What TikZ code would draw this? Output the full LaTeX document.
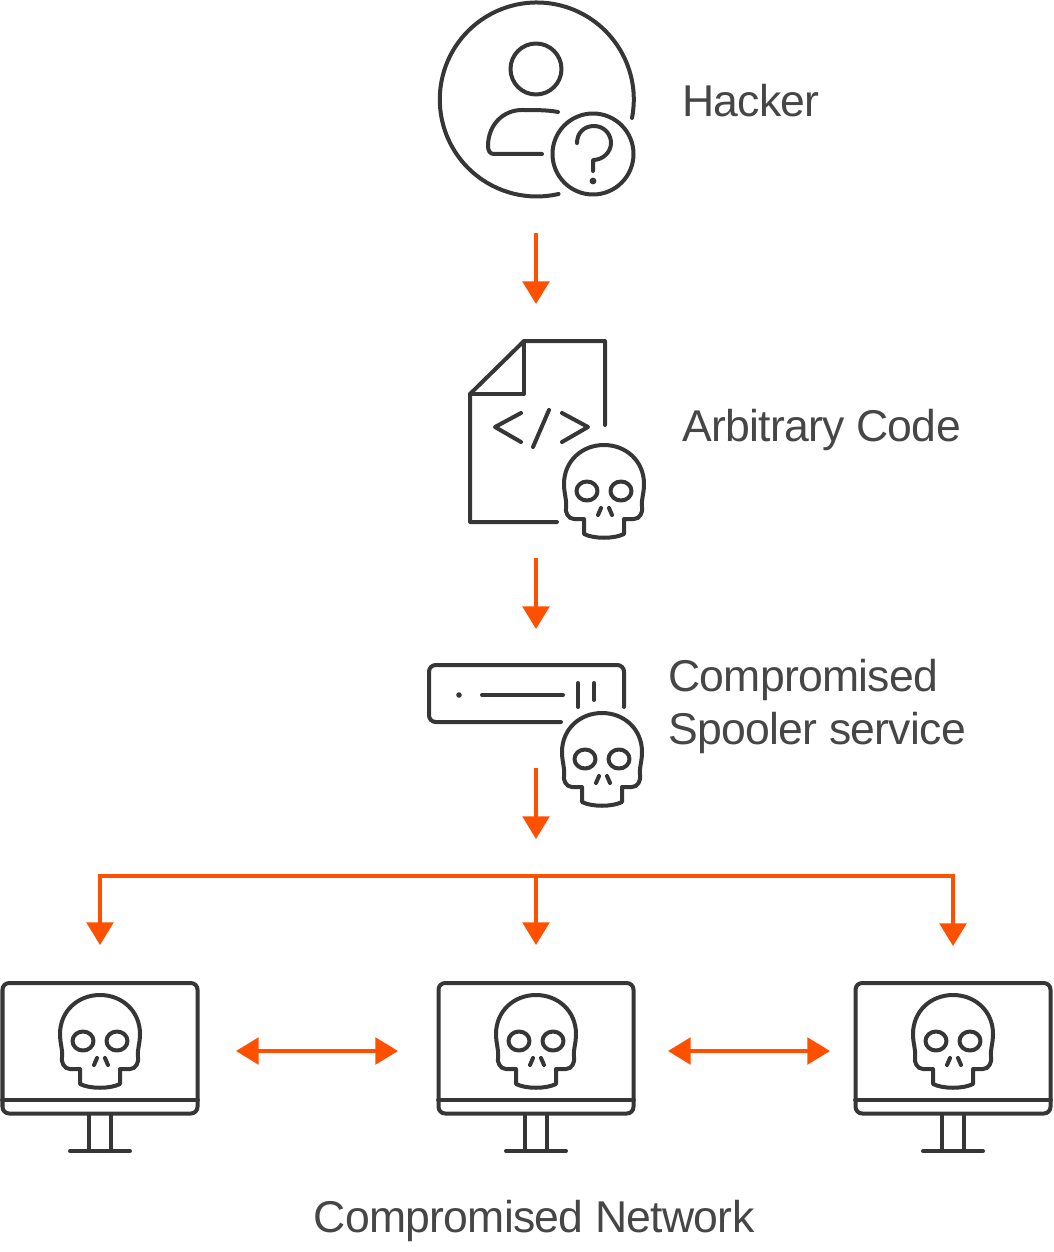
\documentclass[tikz,border=0pt]{standalone}
\usepackage{fontspec}
\setmainfont[LetterSpace=-1.6]{Liberation Sans}
\usetikzlibrary{arrows.meta}
\definecolor{inkgray}{HTML}{363636}
\definecolor{attack}{HTML}{FF5000}
\tikzset{
    icon/.style={draw=inkgray,line width=3pt,line cap=round,line join=round},
    flow/.style={draw=attack,line width=2.6pt,-{Triangle[width=20pt,length=17pt]}},
    both/.style={draw=attack,line width=2.6pt,{Triangle[width=20pt,length=17pt]}-{Triangle[width=20pt,length=17pt]}},
    label/.style={text=inkgray!92,anchor=base west,inner sep=0pt,font=\fontsize{33.4}{40}\selectfont},
}
\def\skull(#1,#2){\begin{scope}[shift={(#1,#2)}]
    \draw[icon] (-20,29) -- (-30,29) .. controls (-36,29) and (-39,22) .. (-38,17)
        .. controls (-37,10) and (-40,4) .. (-40,-6) .. controls (-40,-29) and (-22,-45) .. (0,-45)
        .. controls (22,-45) and (40,-29) .. (40,-6) .. controls (40,4) and (37,10) .. (38,17)
        .. controls (39,22) and (36,29) .. (30,29) -- (20,29) -- (20,44)
        .. controls (10,49) and (-10,49) .. (-20,44) -- cycle;
    \draw[icon] (-17,1) ellipse (10.5 and 9.5);
    \draw[icon] (17,1) ellipse (10.5 and 9.5);
    \draw[icon] (-6,25) -- (-3,18);
    \draw[icon] (8,25) -- (5,18);
\end{scope}}
\def\monitor(#1,#2){\begin{scope}[shift={(#1,#2)}]
    \draw[icon,rounded corners=5] (-97.5,-57) rectangle (97.5,73.5);
    \draw[icon,line width=3.6pt] (-97.5,60) -- (97.5,60);
    \draw[icon] (-11,74) -- (-11,111);
    \draw[icon] (11,74) -- (11,111);
    \draw[icon] (-30,111) -- (30,111);
\end{scope}\skull(#1,#2)}
\begin{document}
\begin{tikzpicture}[x=0.75pt,y=-0.75pt]
    \useasboundingbox (0,0) rectangle (1053,1252);
    % hacker
    \draw[icon] (632,118) arc[start angle=11,end angle=-283,radius=97];
    \draw[icon] (536,69) circle (25.5);
    \draw[icon] (558,112) .. controls (548,110) and (535,110) .. (522,110)
        .. controls (503,110) and (488,125) .. (488,146) .. controls (488,151) and (490,154) .. (494,154) -- (542,154);
    \draw[icon] (593,154) circle (40.5);
    \draw[icon] (577,143) .. controls (577,133) and (584,126) .. (594,126)
        .. controls (604,126) and (611,134) .. (611,143) .. controls (611,152) and (603,160) .. (593,160) -- (593,171);
    \fill[inkgray] (593,181) circle (3.4);
    \node[label] (hacker) at (682,117) {Hacker};
    % code file
    \draw[icon] (605,425) -- (605,341) -- (524,341) -- (470,394) -- (470,522) -- (557,522);
    \draw[icon] (524,341) -- (524,394) -- (470,394);
    \draw[icon] (521,413) -- (495,427) -- (521,442);
    \draw[icon] (549,410) -- (533,447);
    \draw[icon] (562,413) -- (588,427) -- (562,442);
    \skull(604,490)
    \node[label] (code) at (682,441) {Arbitrary Code};
    % spooler
    \draw[icon,rounded corners=5] (624,707) -- (624,665) -- (429,665) -- (429,722) -- (561,722);
    \fill[inkgray] (459,695) circle (2.8);
    \draw[icon] (482,695) -- (563,695);
    \draw[icon] (578,683) -- (578,707);
    \draw[icon] (594,683) -- (594,700);
    \skull(602,758)
    \node[label] (spooler) at (668,691) {Compromised};
    \node[label] (service) at (668,744) {Spooler service};
    % network
    \monitor(100,1040)
    \monitor(536,1040)
    \monitor(953,1040)
    \node[label,anchor=base] (network) at (534,1232) {Compromised Network};
    % connectors
    \coordinate (a1) at (536,233); \coordinate (a2) at (536,304);
    \coordinate (b1) at (536,558); \coordinate (b2) at (536,629);
    \coordinate (c1) at (536,768); \coordinate (c2) at (536,839);
    \coordinate (busl) at (100,945); \coordinate (busm) at (536,945); \coordinate (busr) at (953,946);
    \coordinate (top) at (536,876);
    \coordinate (d1) at (236,1051); \coordinate (d2) at (398,1051);
    \coordinate (e1) at (668,1051); \coordinate (e2) at (830,1051);
    \draw[flow] (a1) -- (a2);
    \draw[flow] (b1) -- (b2);
    \draw[flow] (c1) -- (c2);
    \draw[flow] (top) -- (busm);
    \draw[flow] (top) -| (busl);
    \draw[flow] (top) -| (busr);
    \draw[both] (d1) -- (d2);
    \draw[both] (e1) -- (e2);
\end{tikzpicture}
\end{document}
